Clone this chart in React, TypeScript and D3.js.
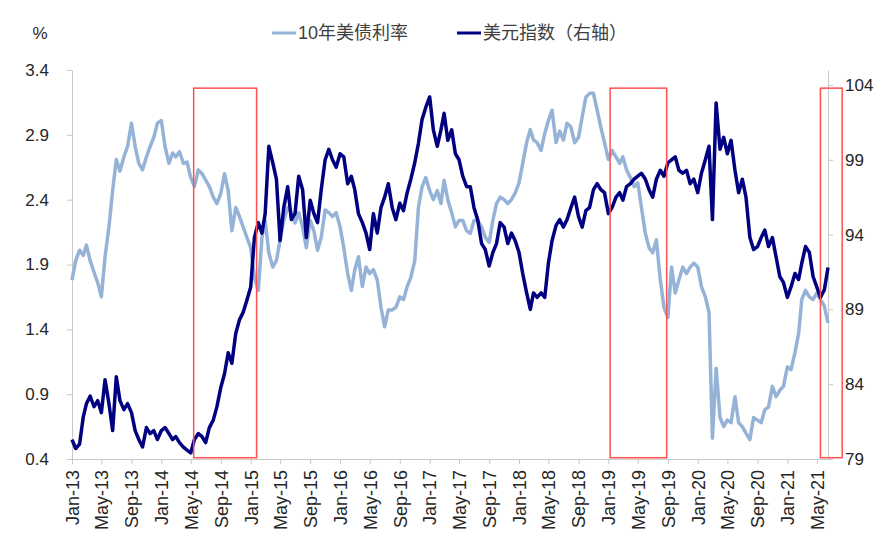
import React, { useEffect, useRef } from "react";
import * as d3 from "d3";

// semi-monthly readings (1st and 16th of each month), Jan 2013 .. Jun 2021
const yield10y = [
  1.78, 1.93, 2.01, 1.97, 2.05, 1.93, 1.84, 1.76, 1.65, 1.96, 2.19, 2.47,
  2.71, 2.62, 2.73, 2.81, 2.99, 2.81, 2.68, 2.63, 2.73, 2.81, 2.88, 2.99,
  3.01, 2.81, 2.68, 2.76, 2.73, 2.77, 2.68, 2.69, 2.57, 2.5, 2.63, 2.6,
  2.55, 2.5, 2.42, 2.37, 2.45, 2.6, 2.47, 2.16, 2.34, 2.27, 2.19, 2.11,
  2.03, 1.8, 1.7, 2.11, 2.24, 1.99, 1.88, 1.93, 2.09, 2.24, 2.34, 2.3,
  2.22, 2.3, 2.19, 2.03, 2.24, 2.16, 2.01, 2.11, 2.32, 2.3, 2.27, 2.3,
  2.19, 2.03, 1.83, 1.7, 1.86, 1.96, 1.73, 1.88, 1.83, 1.86, 1.78, 1.57,
  1.42, 1.55, 1.55, 1.57, 1.65, 1.63, 1.73, 1.8, 1.93, 2.34, 2.5, 2.57,
  2.47, 2.4, 2.47, 2.37, 2.55, 2.4, 2.3, 2.19, 2.24, 2.24, 2.16, 2.14,
  2.24, 2.24, 2.19, 2.11, 2.07, 2.24, 2.37, 2.42, 2.4, 2.37, 2.4, 2.45,
  2.53, 2.68, 2.84, 2.94, 2.86, 2.84, 2.78, 2.91, 3.01, 3.09, 2.84, 2.93,
  2.86, 2.99, 2.96, 2.84, 2.88, 3.04, 3.19, 3.22, 3.22, 3.09, 2.96, 2.84,
  2.71, 2.78, 2.73, 2.68, 2.73, 2.63, 2.57, 2.5, 2.53, 2.34, 2.14, 2.03,
  1.99, 2.09, 1.78, 1.57, 1.49, 1.88, 1.68, 1.78, 1.88, 1.83, 1.88, 1.91,
  1.88, 1.73, 1.65, 1.53, 0.56, 1.1, 0.72, 0.65, 0.7, 0.68, 0.88, 0.68,
  0.65, 0.6, 0.55, 0.72, 0.7, 0.68, 0.78, 0.8, 0.96, 0.88, 0.93, 0.96,
  1.11, 1.09, 1.22, 1.37, 1.63, 1.7, 1.65, 1.63, 1.68, 1.63, 1.58, 1.45,
];

const dollarIndex = [
  80.3, 79.7, 80.0, 81.8, 82.7, 83.2, 82.5, 82.9, 82.1, 84.3, 82.7, 80.9,
  84.5, 82.9, 82.3, 82.7, 82.1, 80.9, 80.3, 79.8, 81.1, 80.7, 80.9, 80.3,
  80.9, 81.1, 80.7, 80.3, 80.5, 80.1, 79.8, 79.6, 79.4, 80.3, 80.7, 80.5,
  80.1, 81.1, 81.6, 82.5, 83.8, 84.7, 86.1, 85.4, 87.4, 88.3, 88.8, 89.6,
  90.5, 93.8, 94.8, 94.1, 95.4, 99.9, 98.8, 97.7, 93.6, 95.8, 97.2, 95.0,
  95.4, 97.9, 97.0, 93.8, 96.3, 95.4, 94.8, 97.0, 99.0, 99.7, 99.0, 98.5,
  99.4, 99.2, 97.4, 97.9, 97.0, 95.4, 94.8, 94.1, 93.0, 95.4, 94.1, 95.8,
  96.5, 97.4, 95.8, 95.0, 96.1, 95.6, 96.8, 97.7, 98.8, 100.1, 101.7, 102.5,
  103.2, 101.0, 99.9, 101.0, 102.1, 100.3, 101.0, 99.4, 99.0, 97.9, 97.2, 97.2,
  95.8, 95.0, 93.4, 93.0, 91.9, 92.8, 93.4, 94.8, 94.5, 93.4, 94.1, 93.6,
  92.8, 91.4, 90.1, 89.0, 90.1, 89.8, 90.1, 89.8, 92.1, 93.6, 94.6, 95.0,
  94.5, 95.0, 95.8, 96.5, 95.2, 94.5, 95.6, 95.8, 97.0, 97.4, 97.0, 96.8,
  95.4, 95.8, 96.5, 96.8, 96.3, 97.2, 97.4, 97.7, 97.9, 98.1, 97.7, 97.0,
  96.5, 97.7, 98.3, 97.9, 98.8, 99.0, 99.2, 98.3, 98.1, 98.3, 97.4, 97.7,
  96.8, 98.1, 99.0, 99.9, 95.0, 102.8, 99.7, 100.5, 99.4, 100.3, 98.3, 96.8,
  97.7, 96.5, 93.8, 93.0, 93.2, 93.8, 94.3, 93.2, 93.8, 92.5, 91.2, 90.8,
  89.8, 90.5, 91.4, 91.0, 92.1, 93.2, 92.8, 91.2, 90.5, 89.8, 90.3, 91.8,
];

const dates = yield10y.map((_, i) => new Date(2013, Math.floor(i / 2), i % 2 ? 16 : 1));

const leftTicks = [0.4, 0.9, 1.4, 1.9, 2.4, 2.9, 3.4];
const rightTicks = [79, 84, 89, 94, 99, 104];

// highlighted periods (red boxes)
const boxStart = ["2014-05-13", "2019-01-08", "2021-05-16"];
const boxEnd = ["2015-01-25", "2019-08-27", "2021-08-13"];

const seriesNames = ["10年美债利率", "美元指数（右轴）"];
const colors = ["#95b3d7", "#000080"];

const App = () => {
  const ref = useRef<SVGSVGElement>(null);

  useEffect(() => {
    const width = 896;
    const height = 548;
    const left = 72;
    const right = 828;
    const top = 70;
    const bottom = 459;

    const svg = d3.select(ref.current);
    svg.selectAll("*").remove();

    const x = d3
      .scaleTime()
      .domain([new Date(2013, 0, 1), new Date(2021, 5, 16)])
      .range([left, right]);
    const yL = d3.scaleLinear().domain([0.4, 3.4]).range([bottom, top]);
    const yR = d3.scaleLinear().domain([79, 105]).range([bottom, top]);

    const font = "'Liberation Sans', Arial, sans-serif";
    const axisColor = "#c8c8c8";

    // left axis
    svg
      .append("g")
      .attr("transform", `translate(${left},0)`)
      .call(d3.axisLeft(yL).tickValues(leftTicks).tickFormat(d3.format(".1f")).tickSize(5).tickSizeOuter(0).tickPadding(18))
      .call((g) => g.selectAll("line,path").attr("stroke", axisColor))
      .call((g) => g.selectAll("text").attr("font-size", 17).attr("font-family", font).attr("fill", "#262626"));

    // right axis
    svg
      .append("g")
      .attr("transform", `translate(${right},0)`)
      .call(d3.axisRight(yR).tickValues(rightTicks).tickSize(5).tickSizeOuter(0).tickPadding(12))
      .call((g) => g.selectAll("line,path").attr("stroke", axisColor))
      .call((g) => g.selectAll("text").attr("font-size", 17).attr("font-family", font).attr("fill", "#262626"));

    // bottom axis
    svg
      .append("g")
      .attr("transform", `translate(0,${bottom})`)
      .call(
        d3
          .axisBottom(x)
          .ticks(d3.timeMonth.every(4))
          .tickFormat(d3.timeFormat("%b-%y") as any)
          .tickSize(5)
          .tickSizeOuter(0)
      )
      .call((g) => g.selectAll("line,path").attr("stroke", axisColor))
      .call((g) =>
        g
          .selectAll("text")
          .attr("font-size", 18)
          .attr("font-family", font)
          .attr("fill", "#262626")
          .attr("text-anchor", "end")
          .attr("transform", "rotate(-90)")
          .attr("x", -11)
          .attr("y", 0)
          .attr("dy", "0.35em")
      );

    // lines
    const lineL = d3
      .line<number>()
      .x((_, i) => x(dates[i]))
      .y((d) => yL(d));
    const lineR = d3
      .line<number>()
      .x((_, i) => x(dates[i]))
      .y((d) => yR(d));

    svg
      .append("path")
      .datum(yield10y)
      .attr("fill", "none")
      .attr("stroke", colors[0])
      .attr("stroke-width", 3.5)
      .attr("stroke-linejoin", "round")
      .attr("d", lineL);

    svg
      .append("path")
      .datum(dollarIndex)
      .attr("fill", "none")
      .attr("stroke", colors[1])
      .attr("stroke-width", 3.5)
      .attr("stroke-linejoin", "round")
      .attr("d", lineR);

    // red boxes
    svg
      .append("g")
      .selectAll("rect")
      .data(boxStart)
      .join("rect")
      .attr("x", (d) => x(new Date(d)))
      .attr("width", (d, i) => x(new Date(boxEnd[i])) - x(new Date(d)))
      .attr("y", yL(3.26))
      .attr("height", yL(0.41) - yL(3.26))
      .attr("fill", "none")
      .attr("stroke", "#ff5050")
      .attr("stroke-width", 1.5);

    // unit label
    svg
      .append("text")
      .attr("x", 40)
      .attr("y", 39)
      .attr("text-anchor", "middle")
      .attr("font-size", 17)
      .attr("font-family", font)
      .attr("fill", "#262626")
      .text("%");

    // legend
    const legendX = [272, 457];
    const legend = svg
      .append("g")
      .selectAll("g")
      .data(seriesNames)
      .join("g")
      .attr("transform", (d, i) => `translate(${legendX[i]},33)`);
    legend
      .append("line")
      .attr("x1", 0)
      .attr("x2", 24)
      .attr("stroke", (d, i) => colors[i])
      .attr("stroke-width", 3);
    legend
      .append("text")
      .attr("x", 26)
      .attr("y", 6)
      .attr("font-size", 18)
      .attr("font-family", "'Liberation Sans', 'Noto Sans CJK SC', sans-serif")
      .attr("fill", "#404040")
      .text((d) => d);

    svg.attr("width", width).attr("height", height);
  }, []);

  return (
    <svg
      ref={ref}
      width={896}
      height={548}
      style={{ position: "absolute", left: 0, top: 0, background: "#fff" }}
    />
  );
};

export default App;
